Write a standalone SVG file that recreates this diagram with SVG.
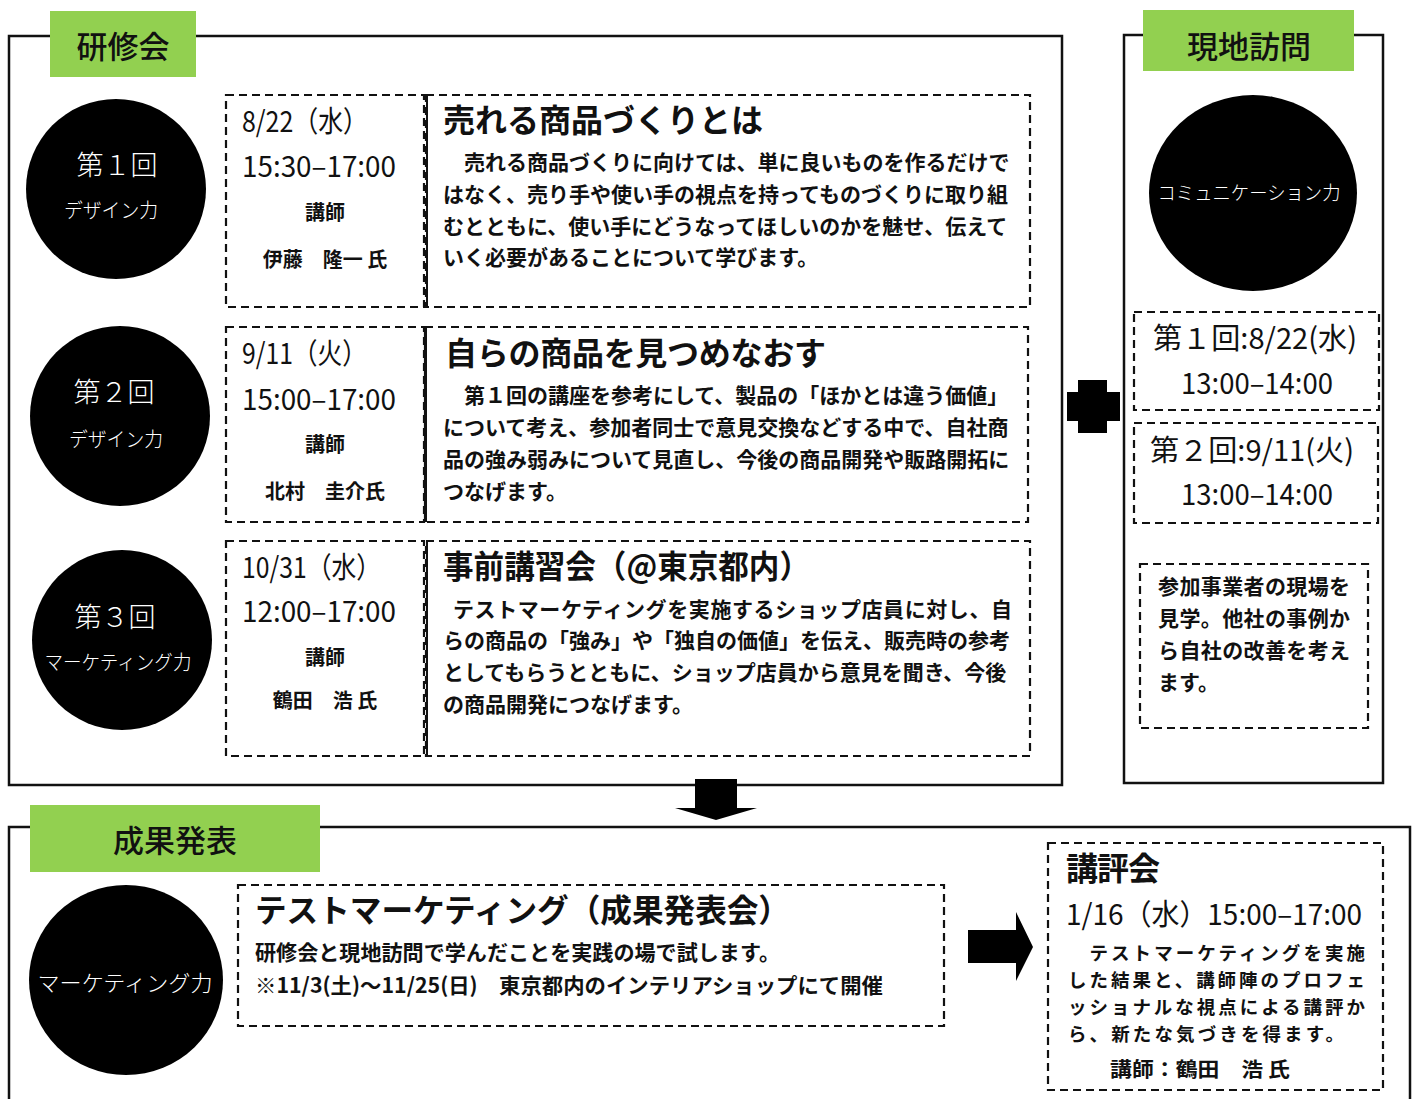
<svg xmlns="http://www.w3.org/2000/svg" width="1415" height="1099" viewBox="0 0 1415 1099">
<style>
text{font-family:"Noto Sans CJK JP","Noto Sans",sans-serif;fill:#111}
.panel{fill:none;stroke:#111;stroke-width:2.5}
.tag{fill:#92D050}
.tagt{font-size:31px;text-anchor:middle;font-weight:500}
.dash{fill:none;stroke:#111;stroke-width:2.2;stroke-dasharray:8 5}
.solid{stroke:#111;stroke-width:2}
.disc{fill:#000}
.ct{fill:#fff;font-weight:300;text-anchor:middle}
.date{font-size:29px;font-weight:400}
.lec{font-size:20px;font-weight:700;text-anchor:middle}
.lecs{font-size:20px;font-weight:700}
.title{font-size:32px;font-weight:700}
.body{font-size:21px;font-weight:700}
.bodys{font-size:18.5px;font-weight:700}
.arrow{fill:#000}
</style>

<g id="panel-kenshu">
<rect class="panel" x="9" y="36" width="1053" height="749"/>
<rect class="tag" x="50" y="11" width="146" height="66"/>
<text class="tagt" x="123" y="58">研修会</text>
</g>

<g id="s1">
<circle class="disc" cx="116" cy="189" r="90"/>
<text class="ct" x="117" y="175" font-size="27">第１回</text>
<text class="ct" x="111" y="218" font-size="20" textLength="94" lengthAdjust="spacingAndGlyphs">デザイン力</text>
<rect class="dash" x="226" y="95" width="198" height="212"/>
<text class="date" x="242" y="132" textLength="126" lengthAdjust="spacingAndGlyphs">8/22（水）</text>
<text class="date" x="242" y="177" textLength="154" lengthAdjust="spacingAndGlyphs">15:30–17:00</text>
<text class="lec" x="325" y="220">講師</text>
<text class="lec" x="325" y="267">伊藤　隆一 氏</text>
<rect class="dash" x="426" y="95" width="604" height="212"/>
<line class="solid" x1="427" y1="95" x2="427" y2="307"/>
<text class="title" x="443" y="132" textLength="320">売れる商品づくりとは</text>
<text class="body" x="443" y="170">　売れる商品づくりに向けては、単に良いものを作るだけで</text>
<text class="body" x="443" y="202">はなく、売り手や使い手の視点を持ってものづくりに取り組</text>
<text class="body" x="443" y="234">むとともに、使い手にどうなってほしいのかを魅せ、伝えて</text>
<text class="body" x="443" y="265">いく必要があることについて学びます。</text>
</g>

<g id="s2">
<circle class="disc" cx="120" cy="416" r="90"/>
<text class="ct" x="114" y="402" font-size="27">第２回</text>
<text class="ct" x="116" y="447" font-size="20" textLength="94" lengthAdjust="spacingAndGlyphs">デザイン力</text>
<rect class="dash" x="226" y="327" width="198" height="195"/>
<text class="date" x="242" y="364" textLength="125" lengthAdjust="spacingAndGlyphs">9/11（火）</text>
<text class="date" x="242" y="410" textLength="154" lengthAdjust="spacingAndGlyphs">15:00–17:00</text>
<text class="lec" x="325" y="452">講師</text>
<text class="lec" x="325" y="499">北村　圭介氏</text>
<rect class="dash" x="425" y="327" width="603" height="195"/>
<line class="solid" x1="426" y1="327" x2="426" y2="522"/>
<text class="title" x="445" y="365" textLength="381">自らの商品を見つめなおす</text>
<text class="body" x="443" y="403">　第１回の講座を参考にして、製品の「ほかとは違う価値」</text>
<text class="body" x="443" y="435">について考え、参加者同士で意見交換などする中で、自社商</text>
<text class="body" x="443" y="467">品の強み弱みについて見直し、今後の商品開発や販路開拓に</text>
<text class="body" x="443" y="499">つなげます。</text>
</g>

<g id="s3">
<circle class="disc" cx="122" cy="640" r="90"/>
<text class="ct" x="115" y="627" font-size="27">第３回</text>
<text class="ct" x="118" y="670" font-size="20" textLength="147" lengthAdjust="spacingAndGlyphs">マーケティング力</text>
<rect class="dash" x="226" y="541" width="198" height="215"/>
<text class="date" x="242" y="578" textLength="139" lengthAdjust="spacingAndGlyphs">10/31（水）</text>
<text class="date" x="242" y="622" textLength="154" lengthAdjust="spacingAndGlyphs">12:00–17:00</text>
<text class="lec" x="325" y="665">講師</text>
<text class="lec" x="325" y="708">鶴田　浩 氏</text>
<rect class="dash" x="426" y="541" width="604" height="215"/>
<line class="solid" x1="427" y1="541" x2="427" y2="756"/>
<text class="title" x="443" y="578" textLength="367" lengthAdjust="spacingAndGlyphs">事前講習会（@東京都内）</text>
<text class="body" x="453" y="617" textLength="559">テストマーケティングを実施するショップ店員に対し、自</text>
<text class="body" x="443" y="648">らの商品の「強み」や「独自の価値」を伝え、販売時の参考</text>
<text class="body" x="443" y="680">としてもらうとともに、ショップ店員から意見を聞き、今後</text>
<text class="body" x="443" y="712">の商品開発につなげます。</text>
</g>

<g id="panel-genchi">
<rect class="panel" x="1124" y="35" width="259" height="748"/>
<rect class="tag" x="1143" y="10" width="211" height="61"/>
<text class="tagt" x="1249" y="58">現地訪問</text>
<ellipse class="disc" cx="1253" cy="193" rx="104" ry="98"/>
<text class="ct" x="1249" y="200" font-size="19" textLength="183" lengthAdjust="spacingAndGlyphs">コミュニケーション力</text>
</g>

<g id="visit1">
<rect class="dash" x="1134" y="312" width="245" height="98"/>
<text class="date" x="1153" y="349" font-size="28" textLength="204" lengthAdjust="spacingAndGlyphs">第１回:8/22(水)</text>
<text class="date" x="1181" y="394" font-size="28" textLength="152" lengthAdjust="spacingAndGlyphs">13:00–14:00</text>
</g>

<g id="visit2">
<rect class="dash" x="1134" y="423" width="244" height="100"/>
<text class="date" x="1150" y="461" font-size="28" textLength="204" lengthAdjust="spacingAndGlyphs">第２回:9/11(火)</text>
<text class="date" x="1181" y="505" font-size="28" textLength="152" lengthAdjust="spacingAndGlyphs">13:00–14:00</text>
</g>

<g id="visit-note">
<rect class="dash" x="1140" y="564" width="228" height="164"/>
<text class="body" x="1158" y="594" textLength="192">参加事業者の現場を</text>
<text class="body" x="1158" y="626" textLength="192">見学。他社の事例か</text>
<text class="body" x="1158" y="658" textLength="192">ら自社の改善を考え</text>
<text class="body" x="1158" y="690">ます。</text>
</g>

<g id="panel-seika">
<rect class="panel" x="9" y="827" width="1401" height="290"/>
<rect class="tag" x="30" y="805" width="290" height="67"/>
<text class="tagt" x="175" y="852">成果発表</text>
<ellipse class="disc" cx="126" cy="980" rx="97" ry="95"/>
<text class="ct" x="125" y="991" font-size="22" textLength="175" lengthAdjust="spacingAndGlyphs">マーケティング力</text>
</g>

<g id="test-marketing">
<rect class="dash" x="238" y="885" width="706" height="141"/>
<text class="title" x="255" y="922" textLength="535" lengthAdjust="spacingAndGlyphs">テストマーケティング（成果発表会）</text>
<text class="body" x="255" y="960" font-size="20" textLength="525" lengthAdjust="spacingAndGlyphs">研修会と現地訪問で学んだことを実践の場で試します。</text>
<text class="body" x="255" y="993" font-size="20" textLength="628" lengthAdjust="spacingAndGlyphs">※11/3(土)～11/25(日)　東京都内のインテリアショップにて開催</text>
</g>

<g id="kohyokai">
<rect class="dash" x="1048" y="843" width="335" height="247"/>
<text class="title" x="1066" y="880" textLength="94">講評会</text>
<text class="date" x="1066" y="925" font-size="29" textLength="296" lengthAdjust="spacingAndGlyphs">1/16（水）15:00–17:00</text>
<text class="bodys" x="1068" y="960" textLength="297">　テストマーケティングを実施</text>
<text class="bodys" x="1068" y="987" textLength="297">した結果と、講師陣のプロフェ</text>
<text class="bodys" x="1068" y="1014" textLength="297">ッショナルな視点による講評か</text>
<text class="bodys" x="1068" y="1041" textLength="276">ら、新たな気づきを得ます。</text>
<text class="lecs" x="1110" y="1077" textLength="180" lengthAdjust="spacingAndGlyphs">講師：鶴田　浩 氏</text>
</g>

<g id="connectors">
<path class="arrow" d="M1078 380 H1107 V392 H1120 V421 H1107 V433 H1078 V421 H1067 V392 H1078 Z"/>
<path class="arrow" d="M695 779 H737 V808 H757 L716 820 L675 808 H695 Z"/>
<path class="arrow" d="M968 930 H1016 V912 L1033 947 L1016 981 V963 H968 Z"/>
</g>
</svg>
